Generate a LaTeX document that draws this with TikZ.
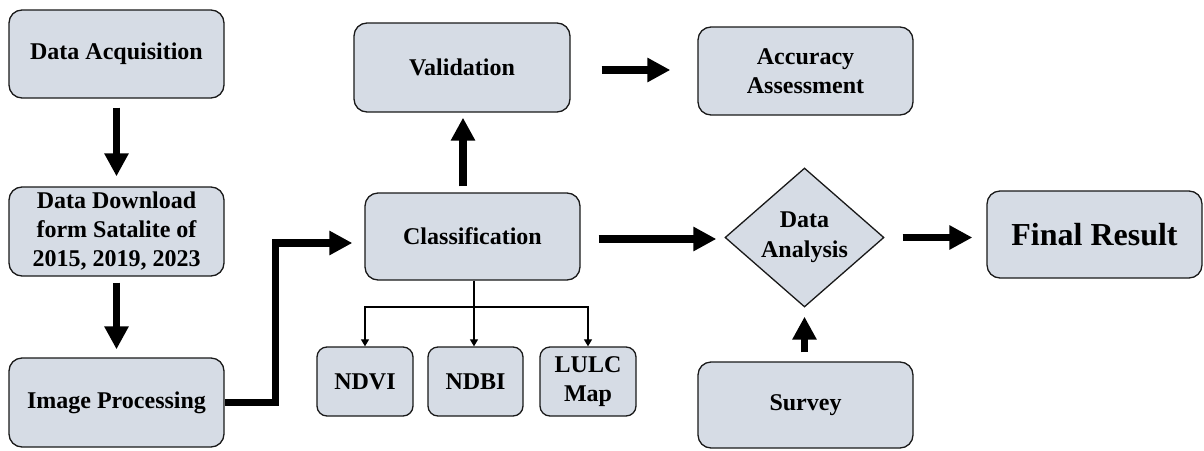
\documentclass[tikz,border=0pt]{standalone}
\usepackage{fontspec}
\setmainfont{Liberation Serif}
\usetikzlibrary{arrows.meta,shapes.geometric}
\definecolor{boxfill}{HTML}{D6DCE5}
\begin{document}
\begin{tikzpicture}[x=1pt,y=-1pt,
  box/.style={draw=black!90,line width=1.3pt,fill=boxfill,rounded corners=13pt,
    align=center,inner sep=0pt,font=\bfseries\fontsize{24}{29}\selectfont},
  dia/.style={draw=black!90,line width=1.3pt,fill=boxfill,diamond,aspect=1.144,
    align=center,inner sep=0pt,font=\bfseries\fontsize{24}{30}\selectfont},
  bigarrow/.style={line width=7.5pt,-{Triangle[length=23pt,width=23pt]}},
  thinarrow/.style={line width=1.2pt,-{Triangle[length=7pt,width=8pt]}}]
\useasboundingbox (0,0) rectangle (1204,450);

\node[box,minimum width=215pt,minimum height=88pt] (acq) at (116.5,54) {Data Acquisition};
\node[box,minimum width=215pt,minimum height=89pt] (dl) at (116.5,231.5) {Data Download\\form Satalite of\\2015, 2019, 2023};
\node[box,minimum width=215pt,minimum height=89pt] (imp) at (116.5,402.5) {Image Processing};
\node[box,minimum width=216pt,minimum height=89pt] (val) at (462,67.5) {Validation};
\node[box,minimum width=215pt,minimum height=87pt] (cls) at (472.5,236.5) {Classification};
\node[box,minimum width=215pt,minimum height=88pt] (acc) at (805.5,71) {Accuracy\\Assessment};
\node[box,rounded corners=10pt,minimum width=96pt,minimum height=69pt] (ndvi) at (365,381.5) {NDVI};
\node[box,rounded corners=10pt,minimum width=95pt,minimum height=69pt] (ndbi) at (475.5,381.5) {NDBI};
\node[box,rounded corners=10pt,minimum width=96pt,minimum height=69pt] (lulc) at (588,381.5) {LULC\\Map};
\node[dia,minimum width=159pt,minimum height=139pt] (da) at (804.5,237.5) {Data\\Analysis};
\node[box,minimum width=215pt,minimum height=87pt,font=\bfseries\fontsize{32}{38}\selectfont] (fin) at (1094.5,234.5) {Final Result};
\node[box,minimum width=215pt,minimum height=86pt] (sur) at (805.5,405) {Survey};

\draw[bigarrow] ([yshift=-9pt]acq.south) -- ([yshift=10pt]dl.north);
\draw[bigarrow] ([yshift=-6pt]dl.south) -- ([yshift=8pt]imp.north);
\draw[bigarrow,rounded corners=0pt] (imp.east) -- ++(51,0) |- ([xshift=-12pt,yshift=-6.5pt]cls.west);
\draw[bigarrow] ([yshift=6pt]cls.north -| 463,0) -- ([yshift=-5pt]val.south -| 463,0);
\draw[bigarrow] ([xshift=31pt]val.east |- 0,70) -- ([xshift=-27pt]acc.west |- 0,70);
\draw[bigarrow] ([xshift=18pt,yshift=-2.5pt]cls.east) -- ([xshift=-8pt,yshift=-1.5pt]da.west);
\draw[bigarrow] ([xshift=18pt]da.east) -- ([xshift=-14pt]fin.west |- da.east);
\draw[bigarrow] ([yshift=9pt]sur.north -| da.south) -- ([yshift=-9pt]da.south);

\coordinate (split) at (474,307);
\draw[line width=1.2pt] (cls.south -| split) -- (split);
\draw[thinarrow] (split) -| (ndvi.north);
\draw[thinarrow] (split) -- (ndbi.north -| split);
\draw[thinarrow] (split) -| (lulc.north);
\end{tikzpicture}
\end{document}
